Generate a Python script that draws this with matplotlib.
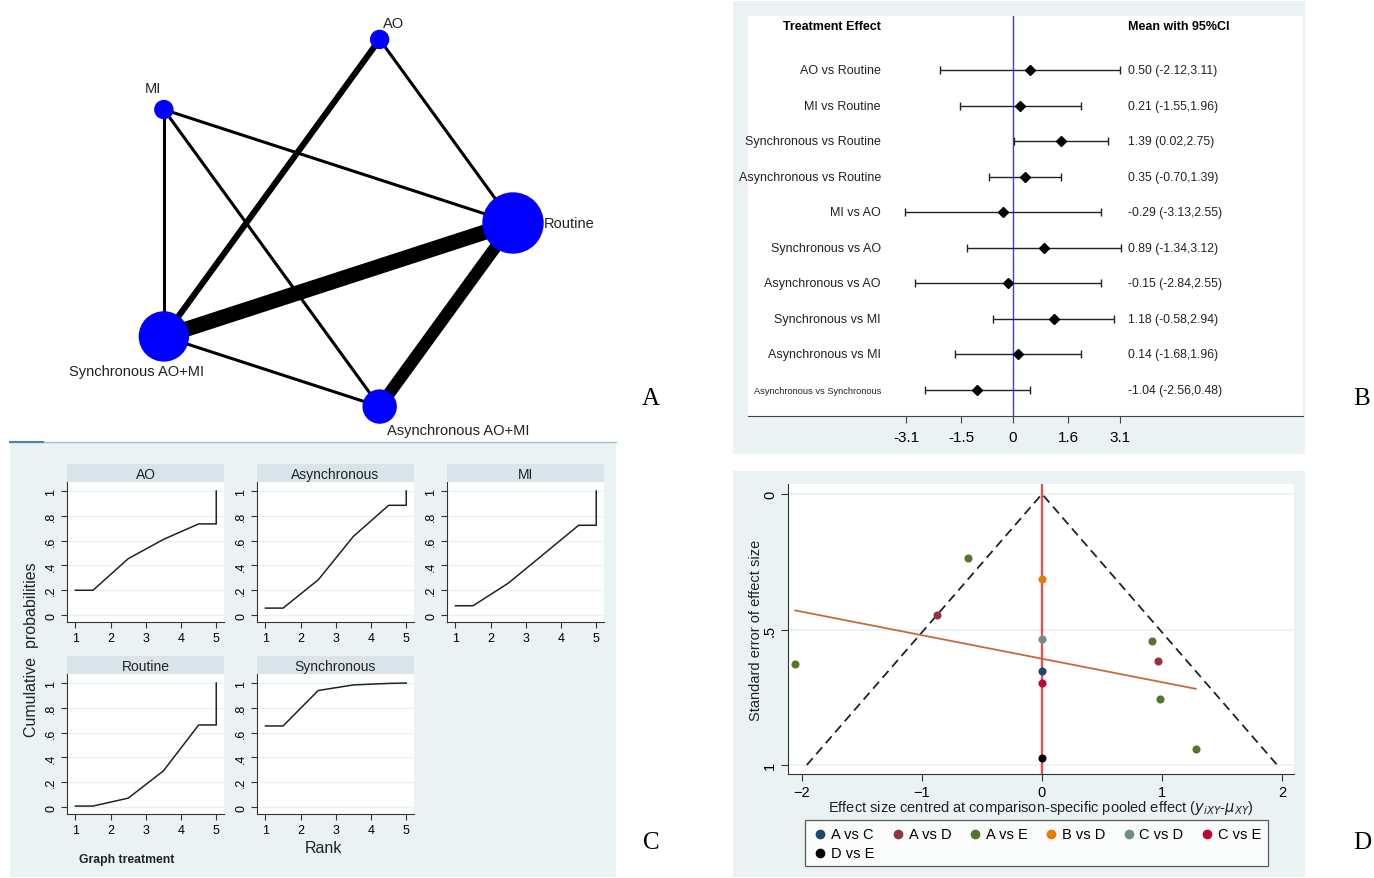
import matplotlib.pyplot as plt
import numpy as np
from matplotlib.patches import Circle, Rectangle
from matplotlib.lines import Line2D

W, H = 1374, 879
BG = '#eaf2f3'
STRIP = '#d8e4ea'

plt.rcParams['font.family'] = ['Liberation Sans', 'DejaVu Sans']

# ---- A: network of treatments (circular layout)
node_names = ["Routine", "AO", "MI", "Synchronous AO+MI", "Asynchronous AO+MI"]
node_size = [30, 9, 9, 24.5, 16.5]
edge_from = [3, 1, 2, 2, 2, 3, 4, 3]
edge_to = [0, 0, 0, 3, 4, 1, 0, 4]
edge_n = [5, 1, 1, 1, 1, 2, 4, 1]

# ---- B: league of effects
comparisons = ["AO vs Routine", "MI vs Routine", "Synchronous vs Routine",
               "Asynchronous vs Routine", "MI vs AO", "Synchronous vs AO",
               "Asynchronous vs AO", "Synchronous vs MI", "Asynchronous vs MI",
               "Asynchronous vs Synchronous"]
eff_mean = [0.50, 0.21, 1.39, 0.35, -0.29, 0.89, -0.15, 1.18, 0.14, -1.04]
eff_lo = [-2.12, -1.55, 0.02, -0.70, -3.13, -1.34, -2.84, -0.58, -1.68, -2.56]
eff_hi = [3.11, 1.96, 2.75, 1.39, 2.55, 3.12, 2.55, 2.94, 1.96, 0.48]
b_ticks = [-3.1, -1.5, 0, 1.6, 3.1]

# ---- C: cumulative ranking curves
treatments = ["AO", "Asynchronous", "MI", "Routine", "Synchronous"]
rank_x = [1, 1.5, 2.5, 3.5, 4.5, 5, 5]
cum_ao = [0.20, 0.20, 0.455, 0.61, 0.735, 0.735, 1.0]
cum_async = [0.056, 0.056, 0.284, 0.635, 0.885, 0.885, 1.0]
cum_mi = [0.075, 0.075, 0.257, 0.49, 0.724, 0.724, 1.0]
cum_routine = [0.008, 0.008, 0.072, 0.292, 0.662, 0.662, 1.0]
cum_sync = [0.654, 0.654, 0.94, 0.985, 0.997, 1.0, 1.0]

# ---- D: comparison-adjusted funnel
groups = ["A vs C", "A vs D", "A vs E", "B vs D", "C vs D", "C vs E", "D vs E"]
g_colors = ['#1a476f', '#90353b', '#55752f', '#e37e00', '#6e8e84', '#c10534', 'black']
g_eff = [[0.0], [-0.875, 0.969], [-0.616, 0.916, -2.056, 0.987, 1.281],
         [0.0], [0.0], [0.0], [0.0]]
g_se = [[0.654], [0.448, 0.615], [0.238, 0.544, 0.629, 0.758, 0.940],
        [0.314], [0.534], [0.697], [0.975]]


def box(x0, y0, x1, y1):
    return [x0 / W, 1 - y1 / H, (x1 - x0) / W, (y1 - y0) / H]


def bg_rect(x0, y0, x1, y1, color=BG):
    fig.add_artist(Rectangle((x0 / W, 1 - y1 / H), (x1 - x0) / W, (y1 - y0) / H,
                             transform=fig.transFigure, facecolor=color,
                             edgecolor='none', zorder=-1))


fig = plt.figure(figsize=(W / 100, H / 100), dpi=100)
fig.patch.set_facecolor('white')

# ================= A =================
R = 193.0
axA = fig.add_axes(box(40, 0, 620, 440))
axA.set_xlim((40 - 320) / R, (620 - 320) / R)
axA.set_ylim(-(440 - 224) / R, 224 / R)
axA.axis('off')
ang = np.deg2rad(np.arange(5) * 72.0)
nx, ny = np.cos(ang), np.sin(ang)
for a, b, n in zip(edge_from, edge_to, edge_n):
    axA.plot([nx[a], nx[b]], [ny[a], ny[b]], color='black', lw=2.2 * n,
             solid_capstyle='butt', zorder=1)
for i in range(5):
    axA.add_patch(Circle((nx[i], ny[i]), node_size[i] / R, color='#0000ff', zorder=2))
lab_off = [(31, 0, 'left'), (14, 16, 'center'), (-11, 22, 'center'),
           (-27, -35, 'center'), (79, -23, 'center')]
for i, (dx, dy, ha) in enumerate(lab_off):
    axA.annotate(node_names[i], (nx[i], ny[i]), xytext=(dx * 0.72, dy * 0.72),
                 textcoords='offset points', ha=ha, va='center', fontsize=10.5,
                 color='#222222')

# ================= B =================
bg_rect(733, 2, 1305, 455)
axB = fig.add_axes(box(748, 17, 1303, 417))
px_unit = 34.5
axB.set_xlim((748 - 1013) / px_unit, (1303 - 1013) / px_unit)
step = 35.56
axB.set_ylim(10 + (417 - 391) / step, 1 - (71 - 17) / step)
rows = np.arange(1, 11)
m = np.array(eff_mean)
axB.errorbar(m, rows, xerr=[m - np.array(eff_lo), np.array(eff_hi) - m], fmt='D',
             color='black', ecolor='#222222', ms=5, capsize=3, elinewidth=1,
             capthick=1, zorder=3)
axB.axvline(0, color='#3b3bff', lw=1, zorder=2)
xl = (881 - 1013) / px_unit
xr = (1128 - 1013) / px_unit
for i, name in enumerate(comparisons):
    fs = 6.7 if len(name) > 24 else 9
    axB.text(xl, rows[i], name, ha='right', va='center', fontsize=fs, color='#222222')
    axB.text(xr, rows[i], f"{eff_mean[i]:.2f} ({eff_lo[i]:.2f},{eff_hi[i]:.2f})",
             ha='left', va='center', fontsize=8.7, color='#222222')
y_head = 1 - (71 - 27) / step
axB.text(xl, y_head, "Treatment Effect", ha='right', va='center', fontsize=9,
         fontweight='bold')
axB.text(xr, y_head, "Mean with 95%CI", ha='left', va='center', fontsize=9,
         fontweight='bold')
for s in ['top', 'left', 'right']:
    axB.spines[s].set_visible(False)
axB.spines['bottom'].set_color('#444444')
axB.set_yticks([])
axB.set_xticks(b_ticks)
axB.set_xticklabels([f"{t:g}" for t in b_ticks])
axB.tick_params(axis='x', labelsize=11, length=5, color='#444444', pad=5)

# ================= C =================
bg_rect(10, 443, 616, 878)
fig.add_artist(Line2D([10 / W, 616 / W], [1 - 443 / H] * 2, transform=fig.transFigure,
                      color='#a8bccb', lw=1))
fig.add_artist(Line2D([10 / W, 43 / W], [1 - 443 / H] * 2, transform=fig.transFigure,
                      color='#4a86b4', lw=1.5))
cols = [(67, 224), (257, 414), (447, 604)]
rws = [(483, 623), (675, 815)]
curves = [cum_ao, cum_async, cum_mi, cum_routine, cum_sync]
for k, name in enumerate(treatments):
    c0, c1 = cols[k % 3]
    r0, r1 = rws[k // 3]
    ax = fig.add_axes(box(c0, r0, c1, r1))
    ax.set_xlim(0.76, 5.22)
    ax.set_ylim(-0.056, 1.073)
    for yv in [0, 0.2, 0.4, 0.6, 0.8, 1.0]:
        ax.axhline(yv, color=BG, lw=1, zorder=0)
    ax.plot(rank_x, curves[k], color='#222222', lw=1.1)
    ax.set_xticks([1, 2, 3, 4, 5])
    ax.set_yticks([0, 0.2, 0.4, 0.6, 0.8, 1.0])
    ax.set_yticklabels(["0", ".2", ".4", ".6", ".8", "1"], rotation=90, va='center')
    ax.tick_params(labelsize=9, length=4, color='#333333', pad=3)
    for s in ['top', 'right']:
        ax.spines[s].set_visible(False)
    for s in ['left', 'bottom']:
        ax.spines[s].set_color('#333333')
    st = fig.add_axes(box(c0, r0 - 18, c1, r0))
    st.set_facecolor(STRIP)
    st.set_xticks([])
    st.set_yticks([])
    for s in st.spines.values():
        s.set_visible(False)
    st.text(0.5, 0.45, name, ha='center', va='center', fontsize=10, color='#222222')
fig.text(32 / W, 1 - 650 / H, "Cumulative  probabilities", rotation=90, ha='center',
         va='center', fontsize=11.5, color='#222222')
fig.text(323 / W, 1 - 849 / H, "Rank", ha='center', va='center', fontsize=11.5,
         color='#222222')
fig.text(127 / W, 1 - 860 / H, "Graph treatment", ha='center', va='center',
         fontsize=8.8, fontweight='bold', color='#222222')

# ================= D =================
bg_rect(733, 472, 1305, 878)
axD = fig.add_axes(box(788, 485, 1294, 775))
axD.set_xlim((788 - 1042) / 120, (1294 - 1042) / 120)
axD.set_ylim((775 - 495) / 271, (485 - 495) / 271)
for yv in [0, 0.5, 1]:
    axD.axhline(yv, color=BG, lw=1.2, zorder=0)
axD.plot([-1.96, 0, 1.96], [1, 0, 1], color='#222222', lw=1.3, ls=(0, (5, 3)), zorder=2)
axD.axvline(0, color='#ff4545', lw=1.6, zorder=2)
handles = []
for g, c, xs, ys in zip(groups, g_colors, g_eff, g_se):
    h = axD.scatter(xs, ys, s=34, color=c, zorder=4, label=g, linewidths=0)
    handles.append(h)
all_x = np.concatenate([np.array(v) for v in g_eff])
all_y = np.concatenate([np.array(v) for v in g_se])
k1, k0 = np.polyfit(all_x, all_y, 1)
fx = np.array([all_x.min(), all_x.max()])
axD.plot(fx, k0 + k1 * fx, color='#c8693c', lw=1.3, zorder=3)
axD.set_xticks([-2, -1, 0, 1, 2])
axD.set_yticks([0, 0.5, 1])
axD.set_yticklabels(["0", ".5", "1"], rotation=90, va='center')
axD.tick_params(labelsize=10.5, length=5, color='#333333', pad=3)
for s in ['top', 'right']:
    axD.spines[s].set_visible(False)
for s in ['left', 'bottom']:
    axD.spines[s].set_color('#333333')
axD.set_ylabel("Standard error of effect size", fontsize=10.5, color='#222222', labelpad=0)
axD.set_xlabel(r"Effect size centred at comparison-specific pooled effect ($y_{iXY}$-$\mu_{XY}$)",
               fontsize=10.5, color='#222222', labelpad=-1)
order = [0, 6, 1, 2, 3, 4, 5]
leg = fig.legend([handles[i] for i in order], [groups[i] for i in order],
                 loc='upper left', bbox_to_anchor=(805 / W, 1 - 821 / H),
                 bbox_transform=fig.transFigure, borderaxespad=0, ncol=6,
                 fontsize=10.5, frameon=True, fancybox=False, edgecolor='#333333',
                 handletextpad=0.15, columnspacing=1.0, borderpad=0.45,
                 labelspacing=0.35, handlelength=1.2, scatterpoints=1,
                 markerscale=1.2)
leg.get_frame().set_linewidth(0.9)

# panel letters
for lt, (x, y) in zip("ABCD", [(651, 399), (1362, 399), (651, 843), (1362, 843)]):
    fig.text(x / W, 1 - y / H, lt, ha='center', va='center', fontsize=18,
             family=['Liberation Serif', 'DejaVu Serif'])

fig.savefig("out.png", dpi=100)
